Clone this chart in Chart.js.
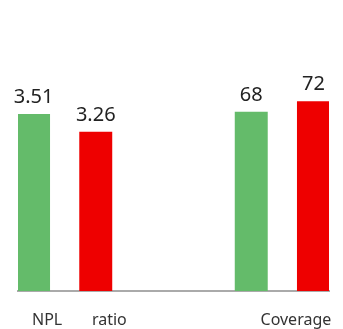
<!DOCTYPE html>
<html>
<head>
<meta charset="utf-8">
<script src="https://cdn.jsdelivr.net/npm/chart.js@4/dist/chart.umd.min.js"></script>
<style>
  html, body { margin: 0; padding: 0; background: #fff; }
  #wrap { width: 343px; height: 329px; }
</style>
</head>
<body>
<div id="wrap"><canvas id="c"></canvas></div>
<script>
// Category tick labels
const categories = ["NPL", "ratio", "", "", "Coverage"];
// NPL ratio (%) values: prior (green), current (red)
const nplValues = [3.51, 3.26, null, null, null];
// Coverage (%) values: prior (green), current (red)
const coverageValues = [null, null, null, 68, 72];

const GREEN = '#64bb6a';
const RED = '#ee0000';

const valueLabels = {
  id: 'valueLabels',
  afterDatasetsDraw(chart) {
    const ctx = chart.ctx;
    ctx.save();
    ctx.font = '20px "Noto Sans"';
    ctx.fillStyle = '#222';
    ctx.textAlign = 'center';
    ctx.textBaseline = 'alphabetic';
    chart.data.datasets.forEach((ds, di) => {
      const meta = chart.getDatasetMeta(di);
      meta.data.forEach((el, i) => {
        const v = ds.data[i];
        if (v === null || v === undefined) return;
        ctx.fillText(String(v), el.x, el.y - 11);
      });
    });
    ctx.restore();
  }
};

new Chart(document.getElementById('c'), {
  type: 'bar',
  data: {
    labels: categories,
    datasets: [
      {
        label: 'NPL ratio',
        data: nplValues,
        backgroundColor: [GREEN, RED, GREEN, GREEN, RED],
        yAxisID: 'y',
        categoryPercentage: 1,
        barPercentage: 1.06
      },
      {
        label: 'Coverage',
        data: coverageValues,
        backgroundColor: [GREEN, RED, GREEN, GREEN, RED],
        yAxisID: 'y1',
        categoryPercentage: 1,
        barPercentage: 1.06
      }
    ]
  },
  options: {
    responsive: true,
    maintainAspectRatio: false,
    animation: false,
    devicePixelRatio: 1,
    layout: { padding: { top: 9, left: 18, right: 14, bottom: -20 } },
    plugins: {
      legend: { display: false },
      tooltip: { enabled: false }
    },
    scales: {
      x: {
        grid: { display: false, drawTicks: false, tickLength: 0 },
        border: { display: true, color: '#aaaaaa', width: 2 },
        ticks: {
          color: '#333',
          font: { family: '"Noto Sans"', size: 16, lineHeight: 3.625 },
          padding: 0,
          maxRotation: 0,
          autoSkip: false,
          labelOffset: -2
        }
      },
      y: { display: false, min: 1, max: 5 },
      y1: { display: false, min: 0, max: 107 }
    }
  },
  plugins: [valueLabels]
});
</script>
</body>
</html>
